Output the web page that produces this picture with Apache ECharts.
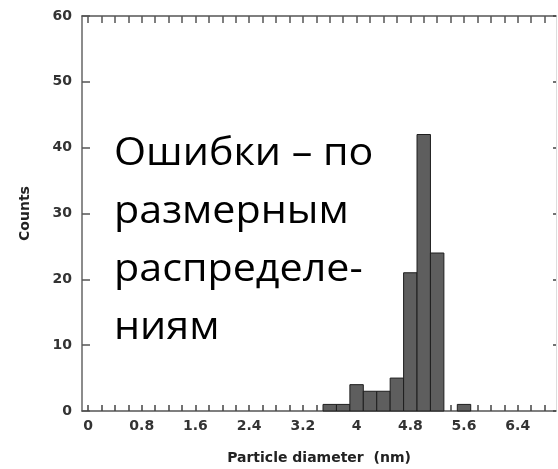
<!DOCTYPE html>
<html>
<head>
<meta charset="utf-8">
<script src="https://cdn.jsdelivr.net/npm/echarts@6/dist/echarts.min.js"></script>
<style>
  html, body { margin: 0; padding: 0; background: #fff; }
  #chart { width: 558px; height: 469px; }
</style>
</head>
<body>
<div id="chart"></div>
<script>
// ===== data =====
const binCenters = [3.6, 3.8, 4.0, 4.2, 4.4, 4.6, 4.8, 5.0, 5.2, 5.6]
const counts     = [1,   1,   4,   3,   3,   5,   21,  42,  24,  1]
const binWidth = 0.2
const xTickLabels = [0, 0.8, 1.6, 2.4, 3.2, 4, 4.8, 5.6, 6.4]
const overlayLines = ['Ошибки – по', 'размерным', 'распределе-', 'ниям']

// minor ticks every 0.2 nm
const xMinorTicks = []
for (let i = 0; i <= 34; i++) xMinorTicks.push(+(i * 0.2).toFixed(1))

const chart = echarts.init(document.getElementById('chart'))

const axisFont = { fontFamily: 'DejaVu Sans', fontWeight: 'bold', fontSize: 14, color: '#333' }
const X_MIN = -0.09, X_MAX = 6.97

const option = {
  animation: false,
  grid: { left: 82, right: 2, top: 16, bottom: 58, outerBoundsMode: 'none' },
  xAxis: [
    {
      type: 'value', position: 'bottom', min: X_MIN, max: X_MAX,
      name: 'Particle diameter  (nm)', nameLocation: 'middle', nameGap: 40,
      nameTextStyle: { ...axisFont, color: '#222' },
      axisLine: { show: true, onZero: false, lineStyle: { color: '#555', width: 1.5 } },
      axisTick: { show: true, inside: true, length: 6, customValues: xMinorTicks, lineStyle: { color: '#444', width: 1.5 } },
      axisLabel: { ...axisFont, margin: 8, customValues: xTickLabels, formatter: v => String(v) },
      splitLine: { show: false },
    },
    {
      type: 'value', position: 'top', min: X_MIN, max: X_MAX,
      axisLine: { show: true, onZero: false, lineStyle: { color: '#555', width: 1.5 } },
      axisTick: { show: true, inside: true, length: 7, customValues: xMinorTicks, lineStyle: { color: '#555', width: 1.5 } },
      axisLabel: { show: false },
      splitLine: { show: false },
    },
  ],
  yAxis: [
    {
      type: 'value', position: 'left', min: 0, max: 60, interval: 10,
      name: 'Counts', nameLocation: 'middle', nameGap: 50, nameRotate: 90,
      nameTextStyle: { ...axisFont, color: '#222' },
      axisLine: { show: true, onZero: false, lineStyle: { color: '#666', width: 1.5 } },
      axisTick: { show: true, inside: true, length: 8, lineStyle: { color: '#555', width: 1.5 } },
      axisLabel: { ...axisFont, margin: 10 },
      splitLine: { show: false },
    },
    {
      type: 'value', position: 'right', min: 0, max: 60, interval: 10,
      axisLine: { show: true, onZero: false, lineStyle: { color: '#ddd', width: 1 } },
      axisTick: { show: true, inside: true, length: 3, lineStyle: { color: '#444', width: 1.5 } },
      axisLabel: { show: false },
      splitLine: { show: false },
    },
  ],
  series: [{
    type: 'custom',
    xAxisIndex: 0, yAxisIndex: 0,
    data: binCenters.map((c, i) => [c, counts[i]]),
    renderItem(params, api) {
      const x = api.value(0), y = api.value(1)
      const p1 = api.coord([x - binWidth / 2, y])
      const p2 = api.coord([x + binWidth / 2, 0])
      return {
        type: 'rect',
        shape: { x: p1[0], y: p1[1], width: p2[0] - p1[0], height: p2[1] - p1[1] },
        style: { fill: '#5e5e5e', stroke: '#1e1e1e', lineWidth: 1 },
      }
    },
    z: 1,
  }],
  graphic: [{
    type: 'text', left: 114, top: 125, z: 10, scaleX: 1.085,
    style: {
      text: overlayLines.join('\n'),
      font: '38px "Open Sans"',
      fill: '#000',
      lineHeight: 58,
    },
  }],
}

chart.setOption(option)
</script>
</body>
</html>
